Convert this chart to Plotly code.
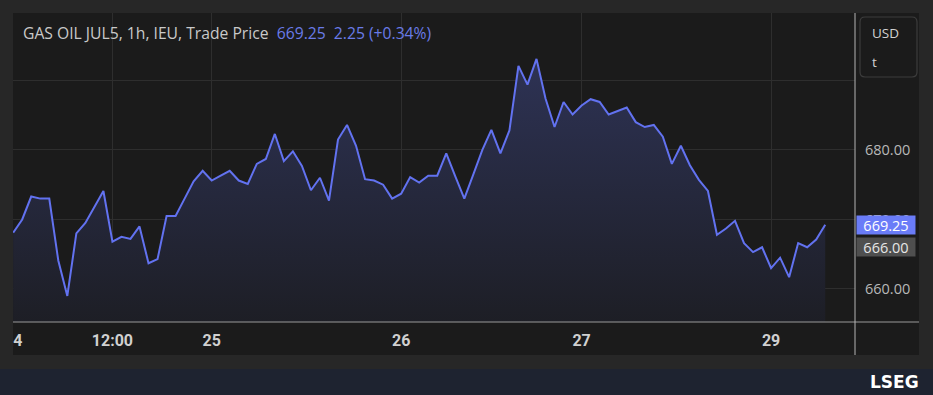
import plotly.graph_objects as go

# ---- data ----
prices = [
    668.1, 670.0, 673.3, 673.0, 673.0, 664.1, 659.0, 668.0, 669.5, 671.8,
    674.1, 666.8, 667.5, 667.2, 669.0, 663.7, 664.3, 670.5, 670.5, 673.0,
    675.5, 677.0, 675.6, 676.3, 677.0, 675.6, 675.1, 678.0, 678.7, 682.3,
    678.4, 679.8, 677.7, 674.2, 676.0, 672.7, 681.5, 683.6, 680.6, 675.8,
    675.6, 675.0, 673.0, 673.7, 676.1, 675.3, 676.3, 676.3, 679.5, 676.2,
    673.0, 676.5, 680.0, 682.9, 679.5, 682.8, 692.1, 689.4, 693.1, 687.4,
    683.3, 686.9, 685.1, 686.4, 687.3, 686.9, 685.1, 685.6, 686.1, 684.0,
    683.3, 683.6, 681.9, 678.0, 680.6, 677.8, 675.7, 674.1, 667.8, 668.7,
    669.8, 666.6, 665.3, 666.0, 663.0, 664.5, 661.7, 666.6, 666.0, 667.1,
    669.25,
]
bar_index = list(range(len(prices)))

x_tick_index = [0, 11, 22, 43, 63, 84]
x_tick_labels = ["24", "12:00", "25", "26", "27", "29"]

y_tick_values = [660, 670, 680, 690]
y_tick_labels = ["660.00", "670.00", "680.00", ""]

title_text = "GAS OIL JUL5, 1h, IEU, Trade Price"
last_price = "669.25"
change_text = "2.25 (+0.34%)"
prev_close = 666.00
last_value = 669.25

# ---- styling / geometry ----
W, H = 933, 395
L, R, T, B = 13, 855, 13, 322  # plot area in pixels
pw, ph = R - L, B - T


def px(xp):
    return (xp - L) / pw


def py(yp):
    return (B - yp) / ph


LINE = "#6272f0"
FONT = "Open Sans"

fig = go.Figure()
fig.add_trace(go.Scatter(
    x=bar_index, y=prices, mode="lines",
    line=dict(color=LINE, width=2),
    fill="tozeroy",
    fillgradient=dict(type="vertical", start=655, stop=694,
                      colorscale=[[0, "#1d1e25"], [1, "#2e3356"]]),
    hoverinfo="skip", showlegend=False,
))

shapes = [
    # chart panel
    dict(type="rect", xref="paper", yref="paper", layer="below",
         x0=px(13), x1=px(919), y0=py(355), y1=py(13),
         fillcolor="#1b1b1b", line=dict(width=0)),
    # bottom strip
    dict(type="rect", xref="paper", yref="paper", layer="below",
         x0=px(0), x1=px(933), y0=py(395), y1=py(369),
         fillcolor="#1e2330", line=dict(width=0)),
    # horizontal axis separator
    dict(type="line", xref="paper", yref="paper", layer="above",
         x0=px(13), x1=px(919), y0=py(322), y1=py(322),
         line=dict(color="#9a9a9a", width=1)),
    # vertical price-scale separator
    dict(type="line", xref="paper", yref="paper", layer="above",
         x0=px(855), x1=px(855), y0=py(355), y1=py(13),
         line=dict(color="#b5b5b5", width=1)),
    # clip first tick label at panel edge
    dict(type="rect", xref="paper", yref="paper", layer="above",
         x0=px(0), x1=px(13), y0=py(360), y1=py(323),
         fillcolor="#272727", line=dict(width=0)),
]

# rounded USD box
x0b, x1b, y0b, y1b, rr = 860, 917, 17, 77, 5
path = (f"M {px(x0b + rr)} {py(y0b)} L {px(x1b - rr)} {py(y0b)} "
        f"Q {px(x1b)} {py(y0b)} {px(x1b)} {py(y0b + rr)} "
        f"L {px(x1b)} {py(y1b - rr)} Q {px(x1b)} {py(y1b)} {px(x1b - rr)} {py(y1b)} "
        f"L {px(x0b + rr)} {py(y1b)} Q {px(x0b)} {py(y1b)} {px(x0b)} {py(y1b - rr)} "
        f"L {px(x0b)} {py(y0b + rr)} Q {px(x0b)} {py(y0b)} {px(x0b + rr)} {py(y0b)} Z")
shapes.append(dict(type="path", xref="paper", yref="paper", path=path,
                   line=dict(color="#3d3d3d", width=1.2), fillcolor="rgba(0,0,0,0)"))

annotations = [
    dict(xref="paper", yref="paper", x=px(21), y=py(33), xanchor="left", yanchor="middle",
         showarrow=False,
         text=(f"<span style='color:#c9c9c9'>{title_text}</span>\u00a0\u00a0"
               f"<span style='color:#6a7be8'>{last_price}\u00a0\u00a0{change_text}</span>"),
         font=dict(family=FONT, size=15.7)),
    dict(xref="paper", yref="paper", x=px(870), y=py(33), xanchor="left", yanchor="middle",
         showarrow=False, text="USD", font=dict(family=FONT, size=13.5, color="#d2d2d2")),
    dict(xref="paper", yref="paper", x=px(870), y=py(62), xanchor="left", yanchor="middle",
         showarrow=False, text="t", font=dict(family=FONT, size=13.5, color="#d2d2d2")),
    # price tags
    dict(xref="paper", yref="y", x=px(856), y=last_value, xanchor="left", yanchor="middle",
         showarrow=False, text=f"{last_value:.2f}", bgcolor="#6a7cf8",
         font=dict(family=FONT, size=14.5, color="#ffffff"), borderpad=0, width=58,
         height=18, align="center"),
    dict(xref="paper", yref="y", x=px(856), y=prev_close, xanchor="left", yanchor="middle",
         showarrow=False, text=f"{prev_close:.2f}", bgcolor="#4f4f4f",
         font=dict(family=FONT, size=14.5, color="#e6e6e6"), borderpad=0, width=58,
         height=18, align="center"),
    # logo text
    dict(xref="paper", yref="paper", x=px(921), y=py(382), xanchor="right", yanchor="middle",
         showarrow=False, text="<b>LSEG</b>",
         font=dict(family="DejaVu Sans", size=17, color="#ffffff")),
]

fig.update_layout(
    width=W, height=H,
    margin=dict(l=L, r=W - R, t=T, b=H - B, pad=0, autoexpand=False),
    paper_bgcolor="#272727", plot_bgcolor="rgba(0,0,0,0)",
    shapes=shapes, annotations=annotations,
    xaxis=dict(range=[-0.02, 93.3], tickvals=x_tick_index, ticktext=x_tick_labels,
               showgrid=True, gridcolor="#2e2e2e", gridwidth=1, zeroline=False,
               showline=False, ticks="", ticklabelstandoff=7, automargin=False,
               tickfont=dict(family="Liberation Sans Narrow, Roboto", size=16,
                             color="#d0d0d0", weight="bold")),
    yaxis=dict(range=[655.25, 699.7], side="right", tickvals=y_tick_values,
               ticktext=y_tick_labels, showgrid=True, gridcolor="#2e2e2e", gridwidth=1,
               zeroline=False, showline=False, ticks="", ticklabelstandoff=9,
               automargin=False,
               tickfont=dict(family=FONT, size=14.5, color="#b8b8b8")),
)

fig.write_html("out.html", config={"displayModeBar": False, "staticPlot": True},
               post_script="document.body.style.margin='0';document.body.style.overflow='hidden';")
